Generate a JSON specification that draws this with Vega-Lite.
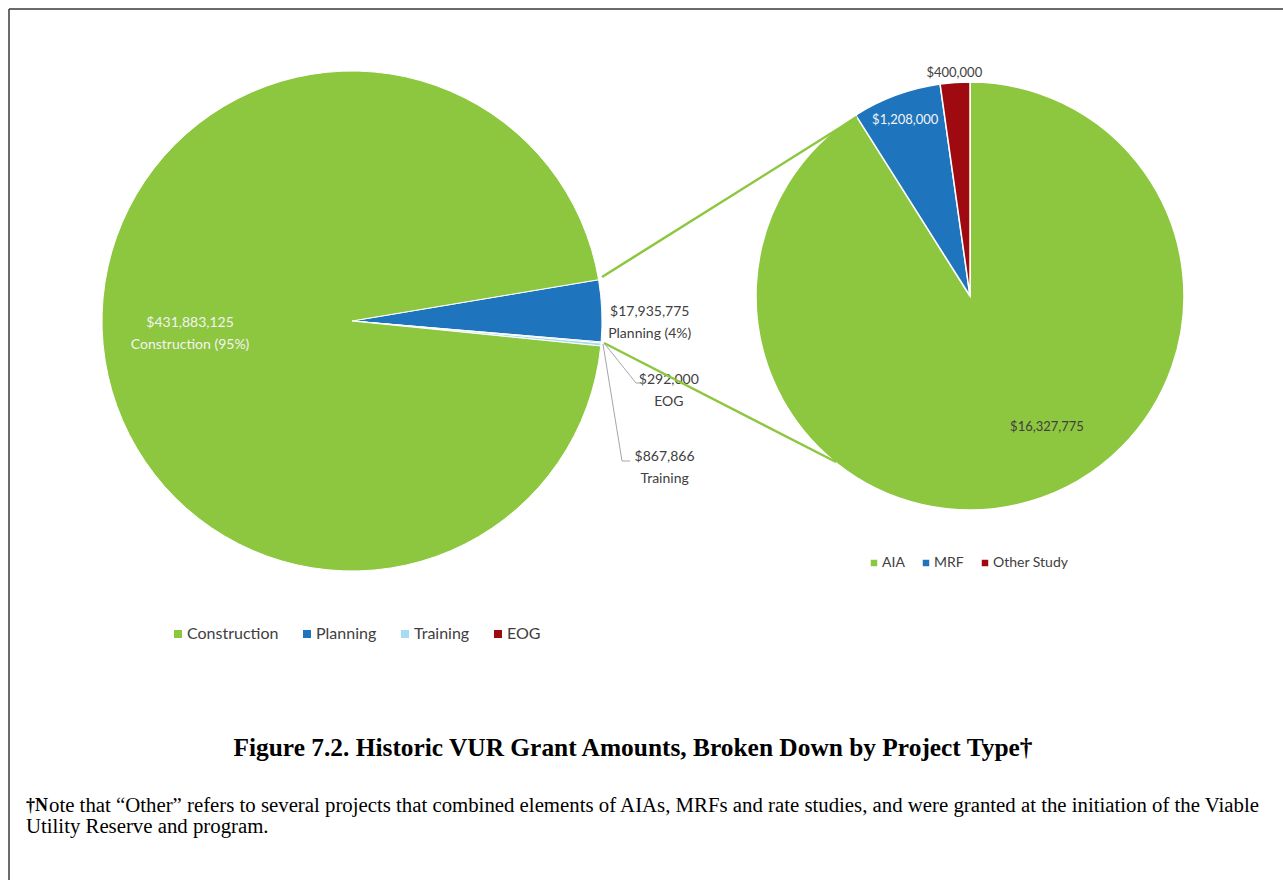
{
  "$schema": "https://vega.github.io/schema/vega-lite/v6.json",
  "width": 1283,
  "height": 880,
  "autosize": {"type": "fit", "contains": "padding"},
  "padding": 0,
  "background": "white",
  "config": {"view": {"stroke": null}, "font": "Lato", "text": {"font": "Lato"}},
  "datasets": {
    "projects": [
      {"type": "Planning", "amount": 17935775, "ord": 1, "label": "$17,935,775\nPlanning (4%)"},
      {"type": "EOG", "amount": 292000, "ord": 2, "label": "$292,000\nEOG"},
      {"type": "Training", "amount": 867866, "ord": 3, "label": "$867,866\nTraining"},
      {"type": "Construction", "amount": 431883125, "ord": 4, "label": "$431,883,125\nConstruction (95%)"}
    ],
    "planning": [
      {"type": "AIA", "amount": 16327775, "ord": 1, "label": "$16,327,775"},
      {"type": "MRF", "amount": 1208000, "ord": 2, "label": "$1,208,000"},
      {"type": "Other Study", "amount": 400000, "ord": 3, "label": "$400,000"}
    ]
  },
  "layer": [
    {
      "data": {"name": "projects"},
      "layer": [
        {
          "mark": {"type": "arc", "x": 352, "y": 321, "outerRadius": 250, "stroke": "white", "strokeWidth": 1},
          "encoding": {
            "theta": {"field": "amount", "type": "quantitative", "stack": true, "scale": {"range": [1.405, 7.6882]}},
            "order": {"field": "ord", "type": "quantitative"},
            "color": {
              "field": "type", "type": "nominal",
              "scale": {"domain": ["Construction", "Planning", "Training", "EOG"], "range": ["#8DC63F", "#1F74BE", "#A6DCF3", "#9E0A10"]},
              "legend": {"title": null, "orient": "none", "legendX": 170, "legendY": 626, "direction": "horizontal", "symbolType": "square", "symbolSize": 64, "symbolStrokeWidth": 0, "labelFont": "Lato", "labelFontSize": 16, "labelColor": "#404040", "labelOffset": 1, "columnPadding": 20, "padding": 0}
            }
          }
        },
        {
          "mark": {"type": "text", "x": 352, "y": 321, "radius": 162, "dy": -3, "fill": "#F4F4F4", "fontSize": 14, "lineBreak": "\n", "lineHeight": 22},
          "encoding": {
            "theta": {"field": "amount", "type": "quantitative", "stack": true},
            "order": {"field": "ord", "type": "quantitative"},
            "detail": {"field": "type", "type": "nominal"},
            "text": {"condition": {"test": "datum.type === 'Construction'", "field": "label", "type": "nominal"}, "value": ""}
          }
        },
        {
          "mark": {"type": "text", "x": 352, "y": 321, "radius": 298, "dy": 3, "fill": "#404040", "fontSize": 14, "lineBreak": "\n", "lineHeight": 22},
          "encoding": {
            "theta": {"field": "amount", "type": "quantitative", "stack": true},
            "order": {"field": "ord", "type": "quantitative"},
            "detail": {"field": "type", "type": "nominal"},
            "text": {"condition": {"test": "datum.type === 'Planning'", "field": "label", "type": "nominal"}, "value": ""}
          }
        },
        {
          "mark": {"type": "text", "x": 352, "y": 321, "radius": 318, "dx": 0, "dy": 32, "fill": "#404040", "fontSize": 14, "lineBreak": "\n", "lineHeight": 22},
          "encoding": {
            "theta": {"field": "amount", "type": "quantitative", "stack": true},
            "order": {"field": "ord", "type": "quantitative"},
            "detail": {"field": "type", "type": "nominal"},
            "text": {"condition": {"test": "datum.type === 'EOG'", "field": "label", "type": "nominal"}, "value": ""}
          }
        },
        {
          "mark": {"type": "text", "x": 352, "y": 321, "radius": 318, "dx": -4, "dy": 106, "fill": "#404040", "fontSize": 14, "lineBreak": "\n", "lineHeight": 22},
          "encoding": {
            "theta": {"field": "amount", "type": "quantitative", "stack": true},
            "order": {"field": "ord", "type": "quantitative"},
            "detail": {"field": "type", "type": "nominal"},
            "text": {"condition": {"test": "datum.type === 'Training'", "field": "label", "type": "nominal"}, "value": ""}
          }
        }
      ]
    },
    {
      "data": {"name": "planning"},
      "layer": [
        {
          "mark": {"type": "arc", "x": 970, "y": 296, "outerRadius": 214, "stroke": "white", "strokeWidth": 1.5},
          "encoding": {
            "theta": {"field": "amount", "type": "quantitative", "stack": true},
            "order": {"field": "ord", "type": "quantitative"},
            "color": {
              "field": "type", "type": "nominal",
              "scale": {"domain": ["AIA", "MRF", "Other Study"], "range": ["#8DC63F", "#1F74BE", "#9E0A10"]},
              "legend": {"title": null, "orient": "none", "legendX": 867, "legendY": 556, "direction": "horizontal", "symbolType": "square", "symbolSize": 42, "symbolStrokeWidth": 0, "labelFont": "Lato", "labelFontSize": 14, "labelColor": "#404040", "labelOffset": 1, "columnPadding": 14, "padding": 0}
            }
          }
        },
        {
          "mark": {"type": "text", "x": 970, "y": 296, "radius": 188, "fill": "#F4F4F4", "fontSize": 13},
          "encoding": {
            "theta": {"field": "amount", "type": "quantitative", "stack": true},
            "order": {"field": "ord", "type": "quantitative"},
            "detail": {"field": "type", "type": "nominal"},
            "text": {"condition": {"test": "datum.type === 'MRF'", "field": "label", "type": "nominal"}, "value": ""}
          }
        },
        {
          "mark": {"type": "text", "x": 970, "y": 296, "radius": 224, "fill": "#404040", "fontSize": 13},
          "encoding": {
            "theta": {"field": "amount", "type": "quantitative", "stack": true},
            "order": {"field": "ord", "type": "quantitative"},
            "detail": {"field": "type", "type": "nominal"},
            "text": {"condition": {"test": "datum.type === 'Other Study'", "field": "label", "type": "nominal"}, "value": ""}
          }
        },
        {
          "mark": {"type": "text", "x": 970, "y": 296, "radius": 151, "dx": 35, "dy": -14, "fill": "#404040", "fontSize": 13},
          "encoding": {
            "theta": {"field": "amount", "type": "quantitative", "stack": true},
            "order": {"field": "ord", "type": "quantitative"},
            "detail": {"field": "type", "type": "nominal"},
            "text": {"condition": {"test": "datum.type === 'AIA'", "field": "label", "type": "nominal"}, "value": ""}
          }
        }
      ]
    },
    {
      "data": {"values": [{"id": 1}]},
      "layer": [
        {"mark": {"type": "rule", "stroke": "#8DC63F", "strokeWidth": 2.5}, "encoding": {"x": {"value": 602}, "y": {"value": 277}, "x2": {"value": 857}, "y2": {"value": 117}}},
        {"mark": {"type": "rule", "stroke": "#8DC63F", "strokeWidth": 2.5}, "encoding": {"x": {"value": 604}, "y": {"value": 343}, "x2": {"value": 836}, "y2": {"value": 462}}},
        {"mark": {"type": "rule", "stroke": "#A6A6A6", "strokeWidth": 1}, "encoding": {"x": {"value": 604}, "y": {"value": 343}, "x2": {"value": 636}, "y2": {"value": 383}}},
        {"mark": {"type": "rule", "stroke": "#A6A6A6", "strokeWidth": 1}, "encoding": {"x": {"value": 636}, "y": {"value": 383}, "x2": {"value": 644}, "y2": {"value": 383}}},
        {"mark": {"type": "rule", "stroke": "#A6A6A6", "strokeWidth": 1}, "encoding": {"x": {"value": 603}, "y": {"value": 344}, "x2": {"value": 622}, "y2": {"value": 461}}},
        {"mark": {"type": "rule", "stroke": "#A6A6A6", "strokeWidth": 1}, "encoding": {"x": {"value": 622}, "y": {"value": 461}, "x2": {"value": 630}, "y2": {"value": 461}}},
        {"mark": {"type": "rule", "stroke": "#3A3A3A", "strokeWidth": 1.5}, "encoding": {"x": {"value": 9}, "y": {"value": 9}, "x2": {"value": 1283}, "y2": {"value": 9}}},
        {"mark": {"type": "rule", "stroke": "#3A3A3A", "strokeWidth": 1.5}, "encoding": {"x": {"value": 9}, "y": {"value": 9}, "x2": {"value": 9}, "y2": {"value": 880}}},
        {"mark": {"type": "text", "align": "center", "baseline": "middle", "font": "Liberation Serif", "fontWeight": "bold", "fontSize": 25.4, "fill": "#000000", "text": "Figure 7.2. Historic VUR Grant Amounts, Broken Down by Project Type†"}, "encoding": {"x": {"value": 633}, "y": {"value": 748}}},
        {"mark": {"type": "text", "align": "left", "baseline": "middle", "font": "Liberation Serif", "fontWeight": "bold", "fontSize": 18, "fill": "#000000", "text": "†N"}, "encoding": {"x": {"value": 26}, "y": {"value": 806}}},
        {"mark": {"type": "text", "align": "left", "baseline": "middle", "font": "Liberation Serif", "fontSize": 20.8, "fill": "#000000", "text": "ote that “Other” refers to several projects that combined elements of AIAs, MRFs and rate studies, and were granted at the initiation of the Viable"}, "encoding": {"x": {"value": 49}, "y": {"value": 806}}},
        {"mark": {"type": "text", "align": "left", "baseline": "middle", "font": "Liberation Serif", "fontSize": 20.8, "fill": "#000000", "text": "Utility Reserve and program."}, "encoding": {"x": {"value": 26}, "y": {"value": 827}}}
      ]
    }
  ],
  "resolve": {"scale": {"theta": "independent", "color": "independent"}}
}
